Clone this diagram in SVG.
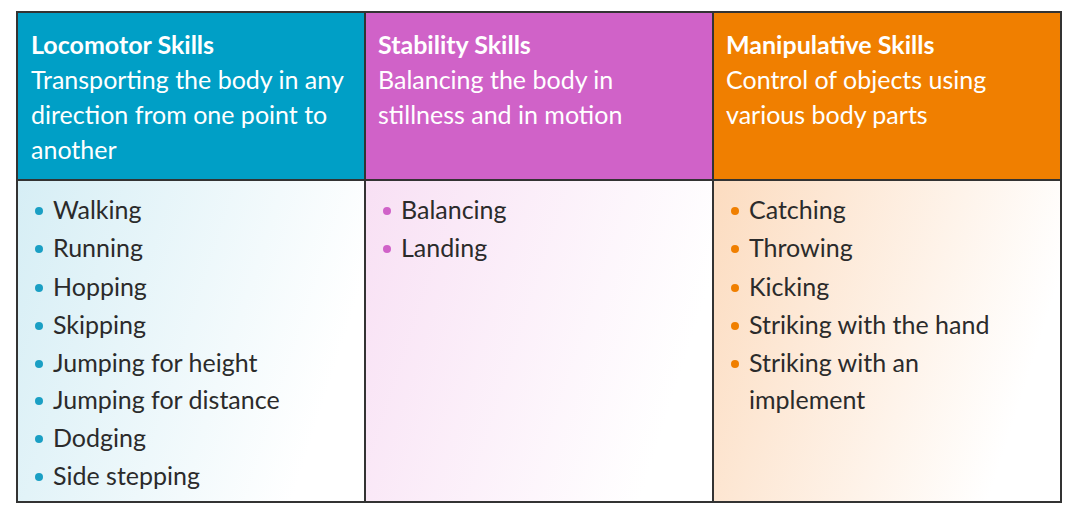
<svg xmlns="http://www.w3.org/2000/svg" width="1074" height="522" viewBox="0 0 1074 522">
<style>
text{font-family:Lato,"Open Sans",sans-serif;font-size:25px}
.h{fill:#fff;font-weight:bold}
.s{fill:#fff}
.b{fill:#2b2b2b}
.grid{fill:none;stroke:#333;stroke-width:2}
</style>
<defs>
<linearGradient id="gb" x1="0" y1="0" x2="1" y2="0.3"><stop offset="0" stop-color="#d6eef5"/><stop offset="1" stop-color="#ffffff"/></linearGradient>
<linearGradient id="gp" x1="0" y1="0" x2="1" y2="0.3"><stop offset="0" stop-color="#f8e0f4"/><stop offset="1" stop-color="#ffffff"/></linearGradient>
<linearGradient id="go" x1="0" y1="0" x2="1" y2="0.3"><stop offset="0" stop-color="#fcdcc0"/><stop offset="1" stop-color="#ffffff"/></linearGradient>
</defs>
<rect width="1074" height="522" fill="#fff"/>
<g id="locomotor">
<rect x="17" y="12" width="348" height="168" fill="#009fc6"/>
<rect x="17" y="180" width="348" height="322" fill="url(#gb)"/>
<text class="h" x="31" y="54">Locomotor Skills</text>
<text class="s" x="31" y="89">Transporting the body in any</text>
<text class="s" x="31" y="124">direction from one point to</text>
<text class="s" x="31" y="159">another</text>
<g fill="#1a9fc4"><circle cx="39" cy="211" r="4"/><circle cx="39" cy="249" r="4"/><circle cx="39" cy="288" r="4"/><circle cx="39" cy="326" r="4"/><circle cx="39" cy="364" r="4"/><circle cx="39" cy="401" r="4"/><circle cx="39" cy="439" r="4"/><circle cx="39" cy="477" r="4"/></g>
<text class="b" x="53" y="219">Walking</text>
<text class="b" x="53" y="257">Running</text>
<text class="b" x="53" y="296">Hopping</text>
<text class="b" x="53" y="334">Skipping</text>
<text class="b" x="53" y="372">Jumping for height</text>
<text class="b" x="53" y="409">Jumping for distance</text>
<text class="b" x="53" y="447">Dodging</text>
<text class="b" x="53" y="485">Side stepping</text>
</g>
<g id="stability">
<rect x="365" y="12" width="348" height="168" fill="#d062c8"/>
<rect x="365" y="180" width="348" height="322" fill="url(#gp)"/>
<text class="h" x="378" y="54">Stability Skills</text>
<text class="s" x="378" y="89">Balancing the body in</text>
<text class="s" x="378" y="124">stillness and in motion</text>
<g fill="#d062c8"><circle cx="387" cy="211" r="4"/><circle cx="387" cy="249" r="4"/></g>
<text class="b" x="401" y="219">Balancing</text>
<text class="b" x="401" y="257">Landing</text>
</g>
<g id="manipulative">
<rect x="713" y="12" width="348" height="168" fill="#f07f00"/>
<rect x="713" y="180" width="348" height="322" fill="url(#go)"/>
<text class="h" x="726" y="54">Manipulative Skills</text>
<text class="s" x="726" y="89">Control of objects using</text>
<text class="s" x="726" y="124">various body parts</text>
<g fill="#f07f00"><circle cx="735" cy="211" r="4"/><circle cx="735" cy="249" r="4"/><circle cx="735" cy="288" r="4"/><circle cx="735" cy="326" r="4"/><circle cx="735" cy="364" r="4"/></g>
<text class="b" x="749" y="219">Catching</text>
<text class="b" x="749" y="257">Throwing</text>
<text class="b" x="749" y="296">Kicking</text>
<text class="b" x="749" y="334">Striking with the hand</text>
<text class="b" x="749" y="372">Striking with an</text>
<text class="b" x="749" y="409">implement</text>
</g>
<g id="connectors" class="grid">
<rect x="17" y="12" width="1044" height="490"/>
<line x1="17" y1="180" x2="1061" y2="180"/>
<line x1="365" y1="12" x2="365" y2="502"/>
<line x1="713" y1="12" x2="713" y2="502"/>
</g>
</svg>
